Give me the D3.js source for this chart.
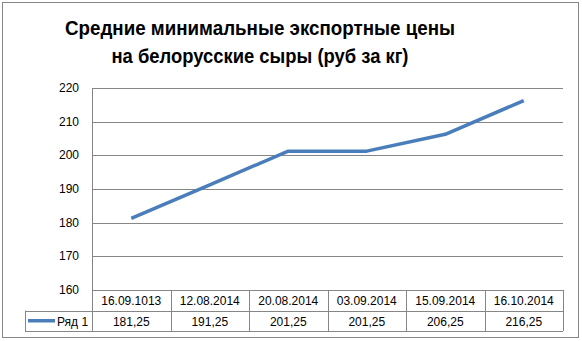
<!DOCTYPE html>
<html>
<head>
<meta charset="utf-8">
<script src="https://cdn.jsdelivr.net/npm/d3@7"></script>
<style>
  body { margin: 0; background: #fff; }
  text { font-family: "Liberation Sans", Arial, sans-serif; fill: #000; }
</style>
</head>
<body>
<div id="chart_box"></div>
<script>
titleLines = ["Средние минимальные экспортные цены", "на белорусские сыры (руб за кг)"]
titleWidths = [390, 297]
dates = ["16.09.1013", "12.08.2014", "20.08.2014", "03.09.2014", "15.09.2014", "16.10.2014"]
prices = [181.25, 191.25, 201.25, 201.25, 206.25, 216.25]
priceLabels = ["181,25", "191,25", "201,25", "201,25", "206,25", "216,25"]
yTicks = [160, 170, 180, 190, 200, 210, 220]
seriesName = "Ряд 1"

width = 582
height = 341
plotLeft = 92
plotRight = 563
plotTop = 88
plotBottom = 290
rowH = 20.5
legendLeft = 25
gridColor = "#868686"
lineColor = "#4a7ebb"

const svg = d3.select("#chart_box").append("svg")
    .attr("width", width)
    .attr("height", height)

// outer frame
svg.append("rect")
    .attr("x", 2.5).attr("y", 2.5)
    .attr("width", 576).attr("height", 335)
    .attr("fill", "white")
    .attr("stroke", gridColor)

svg.append("g").selectAll("text")
    .data(titleLines)
    .join("text")
    .attr("x", 260)
    .attr("y", (d, i) => 35 + i * 28)
    .attr("text-anchor", "middle")
    .attr("font-size", 20)
    .attr("font-weight", "bold")
    .attr("textLength", (d, i) => titleWidths[i])
    .attr("lengthAdjust", "spacingAndGlyphs")
    .text(d => d)

const x = d3.scaleBand()
    .domain(dates)
    .range([plotLeft, plotRight])

const y = d3.scaleLinear()
    .domain([160, 220])
    .range([plotBottom, plotTop])

// gridlines
svg.append("g").selectAll("line")
    .data(yTicks)
    .join("line")
    .attr("x1", plotLeft)
    .attr("x2", plotRight)
    .attr("y1", d => Math.round(y(d)) + 0.5)
    .attr("y2", d => Math.round(y(d)) + 0.5)
    .attr("stroke", gridColor)

// y axis line
svg.append("line")
    .attr("x1", plotLeft + 0.5).attr("x2", plotLeft + 0.5)
    .attr("y1", plotTop).attr("y2", plotBottom + 2 * rowH)
    .attr("stroke", gridColor)

svg.append("g").selectAll("text")
    .data(yTicks)
    .join("text")
    .attr("x", plotLeft - 13)
    .attr("y", d => y(d) + 4)
    .attr("text-anchor", "end")
    .attr("font-size", 12)
    .text(d => d)

// data table
const table = svg.append("g")
const bounds = dates.map(d => x(d)).concat([plotRight])

table.selectAll("line.col")
    .data(bounds)
    .join("line")
    .attr("class", "col")
    .attr("x1", d => Math.round(d) + 0.5)
    .attr("x2", d => Math.round(d) + 0.5)
    .attr("y1", plotBottom)
    .attr("y2", plotBottom + 2 * rowH)
    .attr("stroke", gridColor)

table.selectAll("line.row")
    .data([1, 2])
    .join("line")
    .attr("class", "row")
    .attr("x1", legendLeft)
    .attr("x2", plotRight)
    .attr("y1", d => Math.round(plotBottom + d * rowH) + 0.5)
    .attr("y2", d => Math.round(plotBottom + d * rowH) + 0.5)
    .attr("stroke", gridColor)

table.append("line")
    .attr("x1", legendLeft + 0.5).attr("x2", legendLeft + 0.5)
    .attr("y1", plotBottom + rowH).attr("y2", plotBottom + 2 * rowH)
    .attr("stroke", gridColor)

table.selectAll("text.date")
    .data(dates)
    .join("text")
    .attr("class", "date")
    .attr("x", d => x(d) + x.bandwidth() / 2)
    .attr("y", plotBottom + 15)
    .attr("text-anchor", "middle")
    .attr("font-size", 12)
    .text(d => d)

table.selectAll("text.val")
    .data(priceLabels)
    .join("text")
    .attr("class", "val")
    .attr("x", (d, i) => x(dates[i]) + x.bandwidth() / 2)
    .attr("y", plotBottom + rowH + 15)
    .attr("text-anchor", "middle")
    .attr("font-size", 12)
    .text(d => d)

// legend key
table.append("line")
    .attr("x1", legendLeft + 3).attr("x2", legendLeft + 30)
    .attr("y1", plotBottom + rowH * 1.5).attr("y2", plotBottom + rowH * 1.5)
    .attr("stroke", lineColor)
    .attr("stroke-width", 3.5)

table.append("text")
    .attr("x", legendLeft + 32)
    .attr("y", plotBottom + rowH + 15)
    .attr("font-size", 12)
    .text(seriesName)

// series line
const line = d3.line()
    .x((d, i) => x(dates[i]) + x.bandwidth() / 2)
    .y(d => y(d))

svg.append("path")
    .attr("d", line(prices))
    .attr("fill", "none")
    .attr("stroke", lineColor)
    .attr("stroke-width", 3.5)
    .attr("stroke-linejoin", "round")
</script>
</body>
</html>
